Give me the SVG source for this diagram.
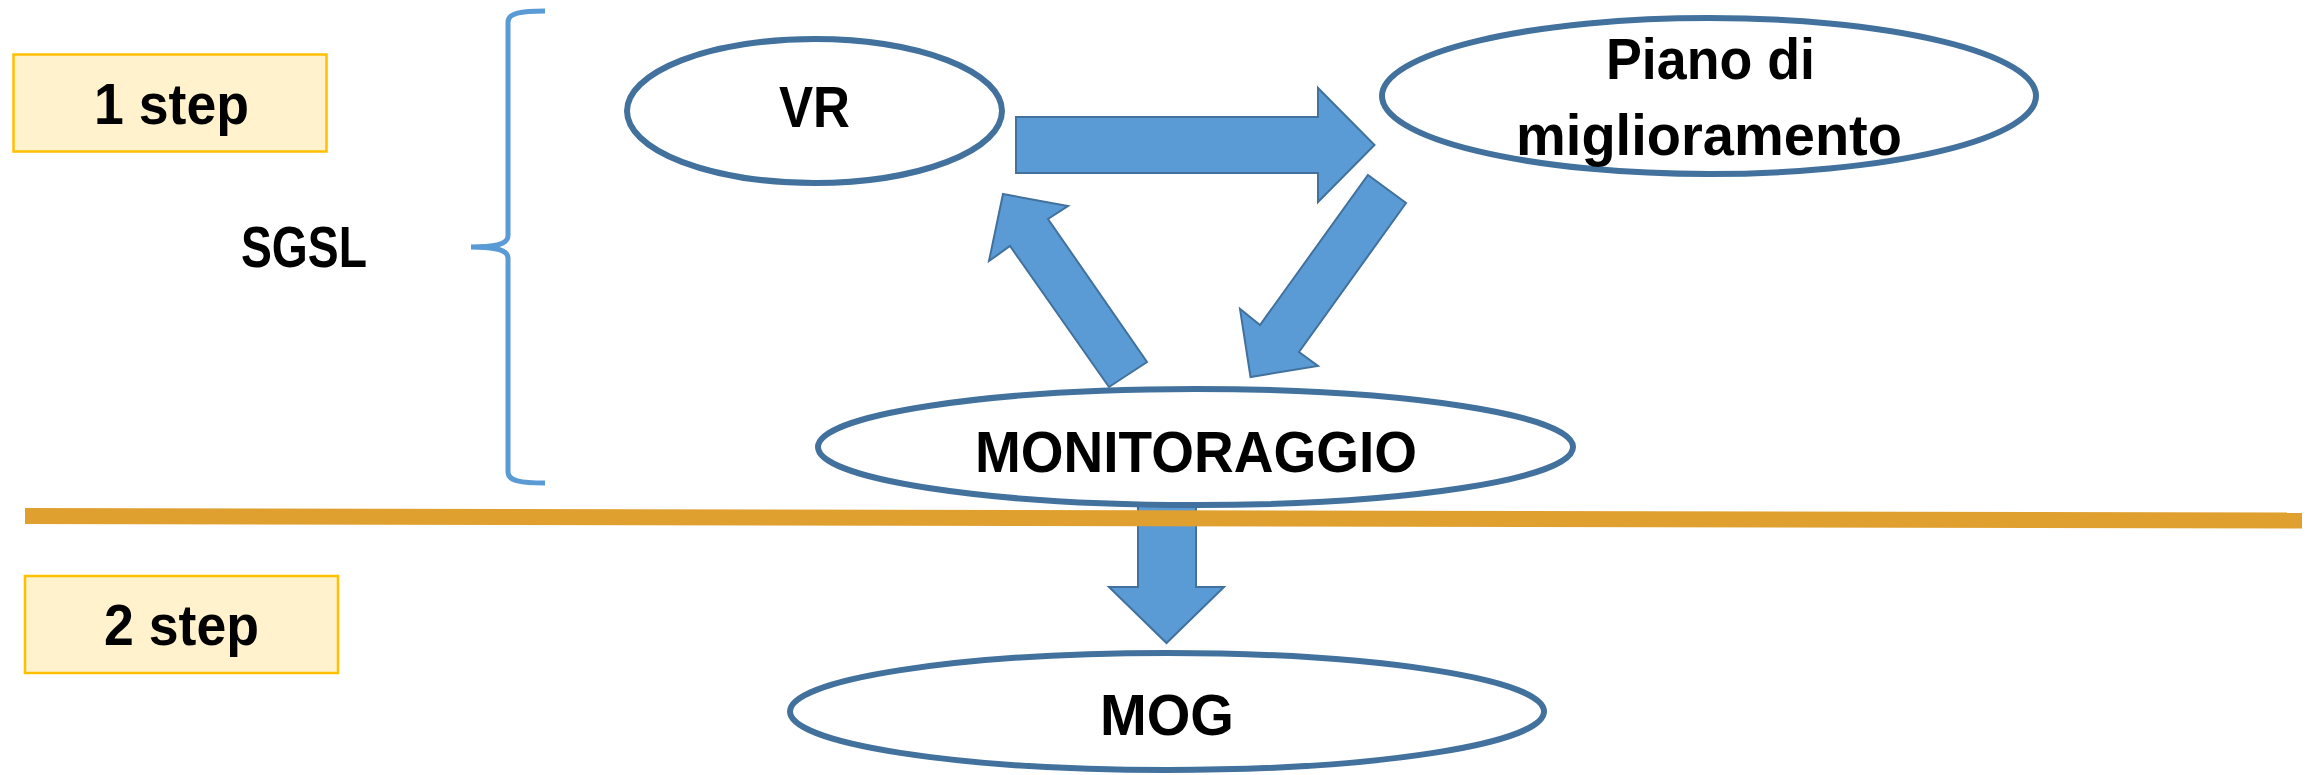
<svg xmlns="http://www.w3.org/2000/svg" width="2310" height="775" viewBox="0 0 2310 775">
  <style>
    .lbl { font-family: "Liberation Sans", Arial, sans-serif; font-weight: bold; font-size: 57px; fill: #000000; }
    .step { fill: #FFF2CC; stroke: #FFC000; stroke-width: 2.5; }
    .node { fill: #FFFFFF; stroke: #41719C; stroke-width: 6; }
    .flow { fill: #5B9BD5; stroke: #41719C; stroke-width: 2; stroke-linejoin: miter; }
    .brace { fill: none; stroke: #5B9BD5; stroke-width: 5; }
  </style>

  <rect width="2310" height="775" fill="#FFFFFF"/>

  <!-- step labels -->
  <g id="step1">
    <rect class="step" x="13.5" y="54.5" width="313" height="97"/>
    <text class="lbl" x="94" y="124" textLength="155" lengthAdjust="spacingAndGlyphs">1 step</text>
  </g>
  <g id="step2">
    <rect class="step" x="25" y="576" width="313" height="97"/>
    <text class="lbl" x="104" y="645" textLength="155" lengthAdjust="spacingAndGlyphs">2 step</text>
  </g>

  <!-- SGSL bracket -->
  <g id="sgsl">
    <path class="brace" d="M545,11 C521,11 508,13 508,22 L508,236 C508,244 496,247 471,247 C496,247 508,250 508,258 L508,472 C508,481 521,483 545,483"/>
    <text class="lbl" x="241" y="267" textLength="126" lengthAdjust="spacingAndGlyphs">SGSL</text>
  </g>

  <!-- block arrows between the phases -->
  <g id="connectors">
    <polygon class="flow" points="1016,117 1318,117 1318,88 1374.5,145 1318,202 1318,173 1016,173"/>
    <polygon class="flow" points="1368,175 1406,203 1299,352 1318,366 1250.5,377 1240,309 1260,325"/>
    <polygon class="flow" points="1003,194 1068,206 1048,219 1147,362 1109,387 1010,246 989,261"/>
    <polygon class="flow" points="1138,500 1196,500 1196,587 1224,587 1166.5,643 1109,587 1138,587"/>
  </g>

  <g id="vr">
    <ellipse class="node" cx="814.5" cy="111" rx="187.5" ry="72"/>
    <text class="lbl" x="779" y="127" textLength="71" lengthAdjust="spacingAndGlyphs">VR</text>
  </g>

  <g id="piano">
    <ellipse class="node" cx="1709" cy="96" rx="327" ry="78"/>
    <text class="lbl" x="1606" y="79" textLength="209" lengthAdjust="spacingAndGlyphs">Piano di</text>
    <text class="lbl" x="1516" y="155" textLength="386" lengthAdjust="spacingAndGlyphs">miglioramento</text>
  </g>

  <g id="monitoraggio">
    <ellipse class="node" cx="1195.5" cy="447" rx="377.5" ry="58"/>
    <text class="lbl" x="975" y="472" textLength="442" lengthAdjust="spacingAndGlyphs">MONITORAGGIO</text>
  </g>

  <g id="mog">
    <ellipse class="node" cx="1167" cy="711.5" rx="377" ry="58.5"/>
    <text class="lbl" x="1100" y="735" textLength="134" lengthAdjust="spacingAndGlyphs">MOG</text>
  </g>

  <!-- divider between step 1 and step 2 -->
  <g id="divider">
    <line x1="25" y1="516" x2="2302" y2="520.5" stroke="#E0A030" stroke-width="16"/>
  </g>
</svg>
